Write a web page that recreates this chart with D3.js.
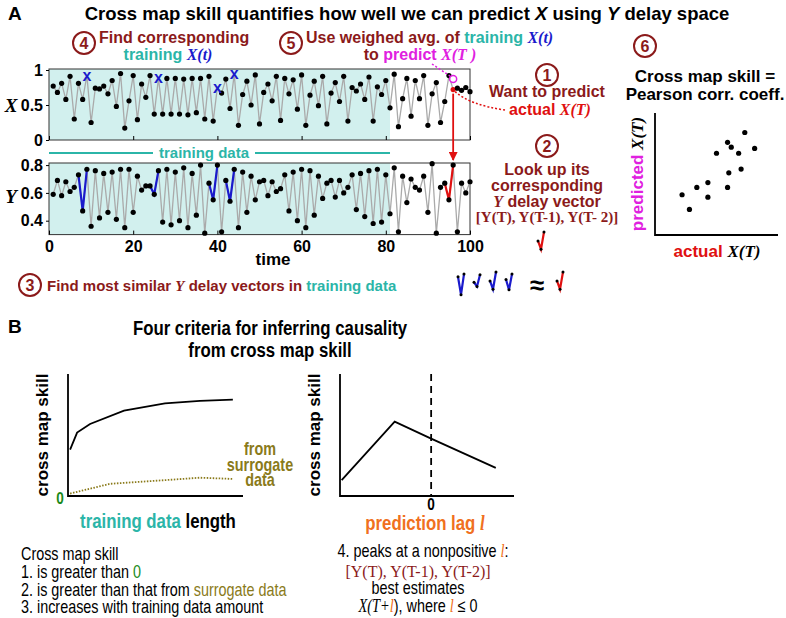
<!DOCTYPE html>
<html>
<head>
<meta charset="utf-8">
<script src="https://cdn.jsdelivr.net/npm/d3@7"></script>
<style>
  body { margin: 0; background: #fff; }
  text { font-family: "Liberation Sans", Arial, sans-serif; }
  .bold { font-weight: bold; }
  .serif { font-family: "Liberation Serif", "Times New Roman", serif; }
</style>
</head>
<body>
<div id="chart-area"></div>
<script>
// time series (t = 1..100)
var xSeries = [.77,.68,.81,.58,.91,.30,.81,.58,.92,.25,
  .74,.73,.77,.66,.85,.48,.95,.17,.56,.92,
  .29,.80,.61,.92,.37,.88,.37,.88,.37,.88,
  .37,.87,.36,.88,.39,.88,.30,.91,.27,.75,
  .67,.87,.45,.94,.21,.65,.84,.50,.93,.23,
  .68,.80,.56,.91,.28,.88,.66,.86,.44,.93,
  .21,.64,.84,.49,.91,.23,.67,.82,.55,.91,
  .27,.75,.70,.80,.58,.90,.27,.76,.65,.85,
  .46,.94,.19,.59,.88,.34,.85,.59,.92,.21,
  .66,.82,.25,.55,.92,.72,.74,.71,.75,.69];
var ySeries = [.59,.69,.58,.68,.61,.64,.73,.47,.77,.36,
  .76,.42,.74,.46,.75,.41,.77,.35,.77,.46,
  .72,.62,.65,.65,.59,.76,.39,.77,.37,.75,
  .40,.78,.35,.74,.44,.80,.31,.67,.55,.80,
  .32,.69,.54,.77,.35,.75,.46,.72,.55,.68,
  .69,.58,.68,.61,.63,.73,.47,.75,.40,.77,
  .35,.76,.44,.72,.56,.67,.69,.57,.69,.60,
  .64,.73,.48,.74,.43,.76,.38,.77,.39,.73,
  .45,.78,.32,.72,.53,.70,.64,.62,.72,.46,
  .81,.31,.64,.67,.55,.80,.32,.67,.60,.68];
var trainingEnd = 81;
var neighbourEnds = [9, 26, 40, 44];   // t of the similar delay vectors
var targetT = 96;
var predictedX = 0.87;

var xTicks = [0, 0.5, 1];
var yTicks = [0.4, 0.6, 0.8];
var timeTicks = [0, 20, 40, 60, 80, 100];

// scatter: actual vs predicted X(T)
var actualX =    [.22,.28,.34,.43,.43,.50,.59,.62,.68,.73,.81,.70,.60,.59];
var predictedXs = [.33,.21,.39,.31,.43,.67,.76,.72,.67,.84,.71,.54,.51,.39];

// panel B curves
var lengthVals = [0.6, 2.6, 6.3, 16, 27.7, 37.7, 47.1];
var skillVals = [0.38, 0.52, 0.59, 0.70, 0.76, 0.78, 0.79];
var surLength = [0.6, 12, 27.7, 37.7, 47];
var surSkill = [0.02, 0.10, 0.13, 0.15, 0.14];
var lagVals = [-5.4, -2.2, 0, 3.9];
var lagSkill = [0.13, 0.61, 0.47, 0.23];

var C = { dark: "#8b1a1a", teal: "#2bb5a8", blue: "#1a1acc", mag: "#e020e0",
  red: "#e01010", olive: "#8a7a1a", green: "#1a8a1a", orange: "#f07020", shade: "#d2f0ee" };

var svg = d3.select("#chart-area").append("svg").attr("width", 786).attr("height", 618);

// helpers
var NARROW = 0.8;
function txt(x, y, size, anchor, parts, cls) {
  var narrow = cls && cls.indexOf("narrow") >= 0;
  var t = svg.append("text").attr("x", narrow ? x / NARROW : x).attr("y", y).attr("font-size", size)
    .attr("text-anchor", anchor || "start").attr("class", cls || "bold");
  if (narrow) t.attr("transform", "scale(" + NARROW + ",1)");
  parts.forEach(function(p) {
    t.append("tspan").text(p[0]).attr("fill", p[1] || "#000")
      .attr("class", p[2] || null).attr("font-style", p[2] ? "italic" : null);
  });
  return t;
}
function circled(x, y, n) {
  svg.append("circle").attr("cx", x).attr("cy", y).attr("r", 11)
    .attr("fill", "none").attr("stroke", C.dark).attr("stroke-width", 2);
  svg.append("text").attr("x", x).attr("y", y + 6).attr("text-anchor", "middle")
    .attr("font-size", 16).attr("class", "bold").attr("fill", C.dark).text(n);
}

// ---------- Panel A ----------
txt(8, 20, 19, "start", [["A"]]);
txt(407, 20, 18.5, "middle", [["Cross map skill quantifies how well we can predict "], ["X", "#000", "bold"],
  [" using "], ["Y", "#000", "bold"], [" delay space"]]);

var t = d3.range(1, 101);
var xs = d3.scaleLinear().domain([0, 100]).range([49, 470]);
var yX = d3.scaleLinear().domain([0, 1]).range([140, 70]);
var yY = d3.scaleLinear().domain([0.3, 0.815]).range([234.6, 163]);

function drawSeries(vals, yScale, top, bottom, ticks, fmt) {
  var g = svg.append("g");
  g.append("rect").attr("x", xs(0)).attr("y", top).attr("width", xs(trainingEnd) - xs(0))
    .attr("height", bottom - top).attr("fill", C.shade);
  g.append("rect").attr("x", xs(0)).attr("y", top).attr("width", xs(100) - xs(0))
    .attr("height", bottom - top).attr("fill", "none").attr("stroke", "#333");
  g.append("path").datum(vals)
    .attr("d", d3.line().x(function(d, i) { return xs(i + 1); }).y(function(d) { return yScale(d); }))
    .attr("fill", "none").attr("stroke", "#aaa").attr("stroke-width", 1.3);
  var ax = g.append("g").attr("transform", "translate(" + xs(0) + ",0)")
    .call(d3.axisLeft(yScale).tickValues(ticks).tickFormat(fmt).tickSize(3));
  ax.select(".domain").remove();
  ax.selectAll("text").attr("font-size", 16).attr("font-weight", "bold").attr("font-family", "Liberation Sans");
  g.append("g").attr("transform", "translate(0," + bottom + ")")
    .call(d3.axisTop(xs).tickValues(timeTicks).tickFormat("").tickSize(4))
    .select(".domain").remove();
  return g;
}

var gX = drawSeries(xSeries, yX, 69, 140, xTicks, function(d) { return d; });
gX.selectAll("circle.pt").data(t.filter(function(d) { return neighbourEnds.indexOf(d) < 0; }))
  .enter().append("circle").attr("class", "pt")
  .attr("cx", function(d) { return xs(d); }).attr("cy", function(d) { return yX(xSeries[d - 1]); })
  .attr("r", 2.6).attr("fill", function(d) { return d === targetT ? C.red : "#000"; });
gX.selectAll("text.nb").data(neighbourEnds).enter().append("text").attr("class", "bold nb")
  .attr("x", function(d) { return xs(d); }).attr("y", function(d) { return yX(xSeries[d - 1]) + 5; })
  .attr("text-anchor", "middle").attr("font-size", 16).attr("fill", C.blue).text("x");
svg.append("circle").attr("cx", xs(targetT)).attr("cy", yX(predictedX)).attr("r", 3.5)
  .attr("fill", "#fff").attr("stroke", C.mag).attr("stroke-width", 1.5);

var gY = drawSeries(ySeries, yY, 163, 234.6, yTicks, d3.format(".1f"));
var yLine = d3.line().x(function(d) { return xs(d); }).y(function(d) { return yY(ySeries[d - 1]); });
neighbourEnds.forEach(function(e) {
  gY.append("path").datum([e - 2, e - 1, e]).attr("d", yLine)
    .attr("fill", "none").attr("stroke", C.blue).attr("stroke-width", 2.2);
});
gY.append("path").datum([targetT - 2, targetT - 1, targetT]).attr("d", yLine)
  .attr("fill", "none").attr("stroke", C.red).attr("stroke-width", 2.2);
gY.selectAll("circle.pt").data(t).enter().append("circle")
  .attr("cx", function(d) { return xs(d); }).attr("cy", function(d) { return yY(ySeries[d - 1]); })
  .attr("r", 2.6).attr("fill", "#000");
var xa = svg.append("g").attr("transform", "translate(0,235)")
  .call(d3.axisBottom(xs).tickValues(timeTicks).tickSize(0).tickPadding(6));
xa.select(".domain").remove();
xa.selectAll("text").attr("font-size", 16).attr("font-weight", "bold").attr("font-family", "Liberation Sans");
txt(273, 265, 17, "middle", [["time"]]);
txt(11, 112, 19, "middle", [["X", "#000", "serif"]], "serif bold");
txt(11, 203, 19, "middle", [["Y", "#000", "serif"]], "serif bold");

// training data bar
svg.append("line").attr("x1", xs(0)).attr("x2", 153).attr("y1", 153).attr("y2", 153).attr("stroke", C.teal).attr("stroke-width", 2);
svg.append("line").attr("x1", 255).attr("x2", xs(trainingEnd)).attr("y1", 153).attr("y2", 153).attr("stroke", C.teal).attr("stroke-width", 2);
txt(204, 158, 15, "middle", [["training data", C.teal]]);

// step annotations
circled(84, 43, 4);
txt(99, 43, 16, "start", [["Find corresponding", C.dark]]);
txt(168, 60, 16, "middle", [["training ", C.teal], ["X(t)", C.blue, "serif"]]);
circled(291, 43, 5);
txt(306, 43, 16, "start", [["Use weighed avg. of ", C.dark], ["training ", C.teal], ["X(t)", C.blue, "serif"]]);
txt(420, 60, 16, "middle", [["to ", C.dark], ["predict ", C.mag], ["X(T )", C.mag, "serif"]]);
svg.append("line").attr("x1", 432).attr("y1", 64).attr("x2", xs(targetT) - 3).attr("y2", yX(predictedX) - 3)
  .attr("stroke", C.mag).attr("stroke-width", 1.5).attr("stroke-dasharray", "2,2");

circled(547, 75, 1);
txt(547, 97, 16, "middle", [["Want to predict", C.dark]]);
txt(550, 115, 16, "middle", [["actual ", C.red], ["X(T)", C.red, "serif"]]);
svg.append("path").attr("d", "M" + (xs(targetT) + 2) + "," + (yX(xSeries[targetT - 1]) + 2) + " Q470,105 505,110")
  .attr("fill", "none").attr("stroke", C.red).attr("stroke-width", 1.5).attr("stroke-dasharray", "2,2");
// arrow from X(T) down to Y(T)
svg.append("defs").append("marker").attr("id", "arr").attr("viewBox", "0 0 10 10").attr("refX", 9).attr("refY", 5)
  .attr("markerWidth", 5).attr("markerHeight", 5).attr("orient", "auto")
  .append("path").attr("d", "M0,0L10,5L0,10z").attr("fill", C.red);
svg.append("line").attr("x1", xs(targetT)).attr("x2", xs(targetT)).attr("y1", yX(xSeries[targetT - 1]) + 4).attr("y2", 160)
  .attr("stroke", C.red).attr("stroke-width", 1.8).attr("marker-end", "url(#arr)");

circled(547, 146, 2);
txt(547, 175, 16, "middle", [["Look up its", C.dark]]);
txt(547, 191, 16, "middle", [["corresponding", C.dark]]);
txt(547, 207, 16, "middle", [["Y", C.dark, "serif"], [" delay vector", C.dark]]);
txt(547, 222, 15, "middle", [["[Y(T), Y(T-1), Y(T- 2)]", C.dark]], "serif bold");

circled(30, 285, 3);
txt(47, 291, 15, "start", [["Find most similar ", C.dark], ["Y", C.dark, "serif"], [" delay vectors in ", C.dark], ["training data", C.teal]]);

// small delay vector glyphs
function glyph(x0, yTop, yBot, tEnd, col) {
  var seg = [tEnd - 2, tEnd - 1, tEnd];
  var gx = d3.scaleLinear().domain([tEnd - 2, tEnd]).range([x0, x0 + 6]);
  var gy = d3.scaleLinear().domain([0.45, 0.8]).range([yBot, yTop]);
  var g = svg.append("g");
  g.append("path").datum(seg).attr("d", d3.line().x(gx).y(function(d) { return gy(ySeries[d - 1]); }))
    .attr("fill", "none").attr("stroke", col).attr("stroke-width", 2.2);
  g.selectAll("circle").data(seg).enter().append("circle").attr("cx", gx)
    .attr("cy", function(d) { return gy(ySeries[d - 1]); }).attr("r", 1.5).attr("fill", "#000");
}
glyph(538, 232, 256, targetT, C.red);
neighbourEnds.forEach(function(e, i) { glyph(458 + i * 16, 272, 296, e, C.blue); });
txt(537, 294, 26, "middle", [["≈"]]);
glyph(557, 272, 296, targetT, C.red);

// scatter
circled(645, 46, 6);
txt(705, 82, 17, "middle", [["Cross map skill ="]]);
txt(705, 100, 17, "middle", [["Pearson corr. coeff."]]);
var sx = d3.scaleLinear().domain([0, 1]).range([655, 778]);
var sy = d3.scaleLinear().domain([0, 1]).range([235, 113]);
svg.append("path").attr("d", "M655,113V235H778").attr("fill", "none").attr("stroke", "#000").attr("stroke-width", 1.8);
svg.selectAll("circle.sc").data(actualX).enter().append("circle")
  .attr("cx", function(d) { return sx(d); }).attr("cy", function(d, i) { return sy(predictedXs[i]); })
  .attr("r", 2.6).attr("fill", "#000");
txt(0, 0, 17, "middle", [["predicted ", C.mag], ["X(T)", "#000", "serif"]]).attr("transform", "translate(643,174) rotate(-90)");
txt(717, 257, 17, "middle", [["actual ", C.red], ["X(T)", "#000", "serif"]]);

// ---------- Panel B ----------
txt(8, 333, 19, "start", [["B"]]);
txt(270, 335, 21, "middle", [["Four criteria for inferring causality"]], "narrow bold");
txt(270, 357, 21, "middle", [["from cross map skill"]], "narrow bold");

var bx = d3.scaleLinear().domain([0, 50]).range([68, 243]);
var by = d3.scaleLinear().domain([0, 1]).range([496, 374]);
svg.append("path").attr("d", "M68,374V496H243").attr("fill", "none").attr("stroke", "#000").attr("stroke-width", 1.8);
svg.append("path").datum(lengthVals).attr("d", d3.line().x(function(d) { return bx(d); }).y(function(d, i) { return by(skillVals[i]); }))
  .attr("fill", "none").attr("stroke", "#000").attr("stroke-width", 1.8);
svg.append("path").datum(surLength).attr("d", d3.line().x(function(d) { return bx(d); }).y(function(d, i) { return by(surSkill[i]); }))
  .attr("fill", "none").attr("stroke", C.olive).attr("stroke-width", 1.8).attr("stroke-dasharray", "1.5,1.5");
txt(0, 0, 17, "middle", [["cross map skill"]]).attr("transform", "translate(48,435) rotate(-90)");
txt(60, 504, 17, "middle", [["0", C.green]], "narrow bold");
txt(260, 455, 18, "middle", [["from", C.olive]], "narrow bold");
txt(260, 471, 18, "middle", [["surrogate", C.olive]], "narrow bold");
txt(260, 486, 18, "middle", [["data", C.olive]], "narrow bold");
txt(158, 528, 21, "middle", [["training data ", C.teal], ["length"]], "narrow bold");

var lx = d3.scaleLinear().domain([-5.5, 5]).range([340, 514]);
var ly = d3.scaleLinear().domain([0, 1]).range([496, 374]);
svg.append("path").attr("d", "M340,374V496H514").attr("fill", "none").attr("stroke", "#000").attr("stroke-width", 1.8);
svg.append("line").attr("x1", lx(0)).attr("x2", lx(0)).attr("y1", 374).attr("y2", 496)
  .attr("stroke", "#000").attr("stroke-width", 1.8).attr("stroke-dasharray", "7,5");
svg.append("path").datum(lagVals).attr("d", d3.line().x(function(d) { return lx(d); }).y(function(d, i) { return ly(lagSkill[i]); }))
  .attr("fill", "none").attr("stroke", "#000").attr("stroke-width", 1.8);
txt(0, 0, 17, "middle", [["cross map skill"]]).attr("transform", "translate(320,435) rotate(-90)");
txt(lx(0), 510, 17, "middle", [["0"]], "narrow bold");
txt(425, 530, 21, "middle", [["prediction lag ", C.orange], ["l", C.orange, "serif"]], "narrow bold");

txt(21, 560, 18, "start", [["Cross map skill"]], "narrow");
txt(21, 578, 18, "start", [["1. is greater than "], ["0", C.green]], "narrow");
txt(21, 596, 18, "start", [["2. is greater than that from "], ["surrogate data", C.olive]], "narrow");
txt(21, 613, 18, "start", [["3. increases with training data amount"]], "narrow");
txt(423, 557, 18, "middle", [["4. peaks at a nonpositive "], ["l", C.orange, "serif"], [":"]], "narrow");
txt(418, 577, 16, "middle", [["[Y(T), Y(T-1), Y(T-2)]", C.dark]], "serif");
txt(418, 594, 18, "middle", [["best estimates"]], "narrow");
txt(418, 612, 18, "middle", [["X(T+", "#000", "serif"], ["l", C.orange, "serif"], ["), where "], ["l", C.orange, "serif"], [" ≤ 0"]], "narrow");
</script>
</body>
</html>
